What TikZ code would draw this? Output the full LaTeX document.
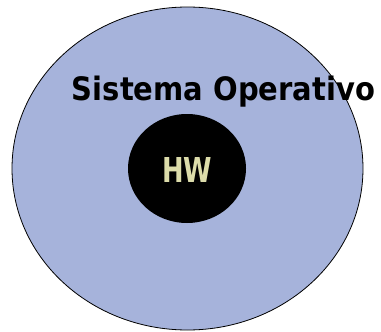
\documentclass[tikz,border=0pt]{standalone}
\usepackage{fontspec}
\setmainfont{DejaVu Sans}
\usepackage{graphicx}
\definecolor{osblue}{RGB}{166,179,219}
\definecolor{hwtext}{RGB}{220,220,170}
\tikzset{
  outerell/.style={draw=black, line width=0.8pt, fill=osblue},
  innerell/.style={fill=black},
  lbl/.style={inner sep=0pt, anchor=base}
}
\begin{document}
\begin{tikzpicture}[x=1pt,y=-1pt]
\useasboundingbox (0,0) rectangle (381,332);
\path[outerell] (187.5,168.5) ellipse [x radius=175.5, y radius=161.5];
\path[innerell] (187,168.5) ellipse [x radius=59, y radius=54.5];
\node[lbl] (os) at (223.5,100) {\resizebox{303pt}{24.5pt}{\bfseries Sistema Operativo}};
\node[lbl, text=hwtext] (hw) at (187,182) {\resizebox{50pt}{25pt}{\bfseries HW}};
\end{tikzpicture}
\end{document}
